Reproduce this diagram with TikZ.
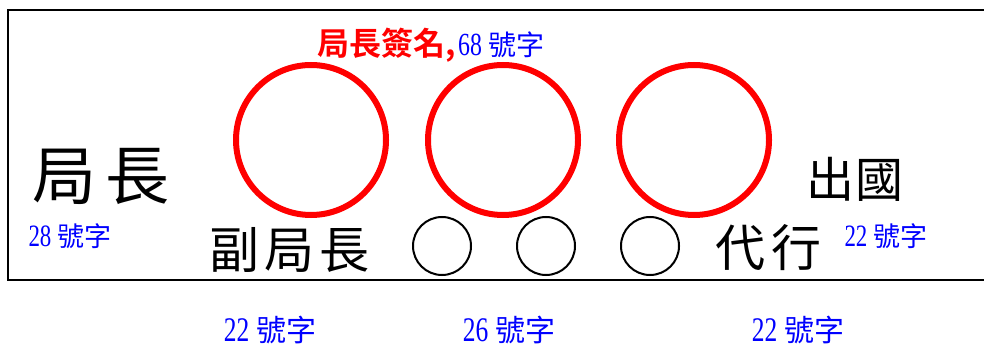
\documentclass[tikz,border=0pt]{standalone}
\usepackage{fontspec}
\usepackage{graphicx}
\setmainfont{Noto Sans CJK TC}
\newfontfamily\cjk{Noto Sans CJK TC}
\newfontfamily\cjkb{Noto Sans CJK TC Bold}
\newfontfamily\numf{Liberation Serif}
\newcommand{\nm}[1]{\scalebox{0.85}[1.15]{\numf #1}}
\begin{document}
\begin{tikzpicture}[x=1pt,y=-1pt,
  redring/.style={circle,draw=red,line width=6pt,minimum size=150pt,inner sep=0pt},
  blackring/.style={circle,draw=black,line width=2pt,minimum size=58pt,inner sep=0pt},
  bigtxt/.style={font=\cjk\fontsize{64}{70}\selectfont,inner sep=0pt},
  midtxt/.style={font=\cjk\fontsize{50}{56}\selectfont,inner sep=0pt},
  sizetxt/.style={font=\cjk\fontsize{27}{30}\selectfont,text=blue,inner sep=0pt},
  bottxt/.style={font=\cjk\fontsize{30}{33}\selectfont,text=blue,inner sep=0pt}]
\useasboundingbox (0,0) rectangle (984,347);
\fill[white] (0,0) rectangle (984,347);
\coordinate (tr) at (984,10);
\coordinate (tl) at (8,10);
\coordinate (bl) at (8,280);
\coordinate (br) at (984,280);
\draw[line width=2pt] (tr) -- (tl) -- (bl) -- (br);
% red rings
\node[redring] (r1) at (311,140) {};
\node[redring] (r2) at (503,140) {};
\node[redring] (r3) at (694,140) {};
% black rings
\node[blackring] (b1) at (442,246) {};
\node[blackring] (b2) at (546,246) {};
\node[blackring] (b3) at (650,246) {};
% texts
\node[bigtxt] (ju) at (101,176) {局\hspace{10pt}長};
\node[sizetxt] (s28) at (70,236) {\nm{28}\ 號字};
\node[midtxt] (fu) at (289,250) {副\hspace{5pt}局\hspace{5pt}長};
\node[midtxt] (dai) at (768,248) {代\hspace{6pt}行};
\node[font=\cjk\fontsize{48}{54}\selectfont,inner sep=0pt] (chu) at (855,179) {出\hspace{2pt}國};
\node[sizetxt] (s22r) at (886,236) {\nm{22}\ 號字};
\node[inner sep=0pt] (title) at (431,45) {{\cjkb\fontsize{32}{36}\selectfont\color{red}局長簽名,}\hspace{2pt}{\fontsize{28}{32}\selectfont\color{blue}\nm{68}\ 號字}};
\node[bottxt] (s22a) at (270,330) {\nm{22}\ 號字};
\node[bottxt] (s26) at (509,330) {\nm{26}\ 號字};
\node[bottxt] (s22b) at (798,330) {\nm{22}\ 號字};
\end{tikzpicture}
\end{document}
